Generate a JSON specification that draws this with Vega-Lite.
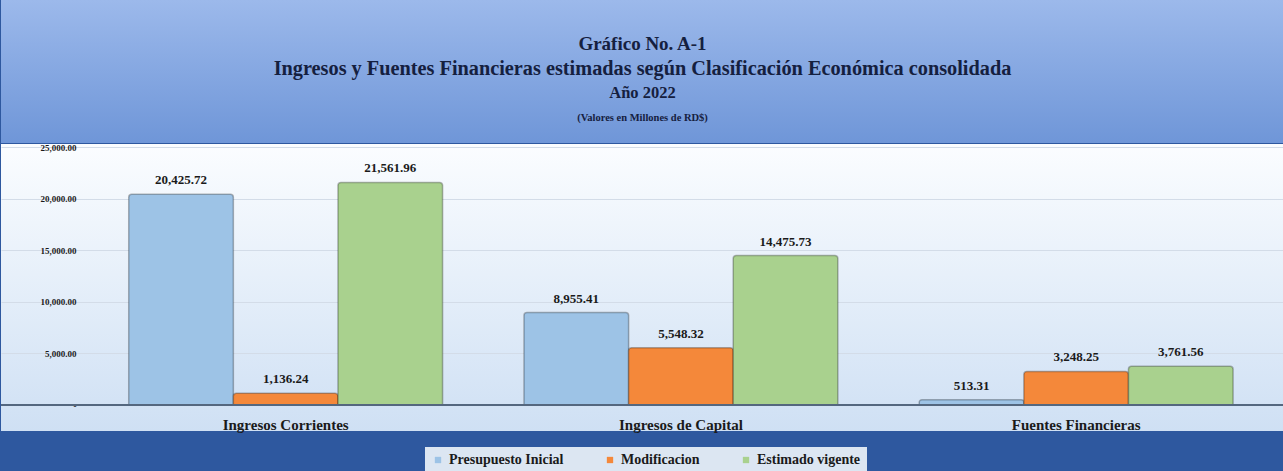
{
  "$schema": "https://vega.github.io/schema/vega-lite/v6.json",
  "background": "#2E589F",
  "padding": 0,
  "spacing": 0,
  "config": {"view": {"stroke": null}, "font": "Liberation Serif"},
  "vconcat": [
    {
      "width": 1283,
      "height": 143,
      "view": {
        "stroke": null,
        "fill": {"gradient": "linear", "x1": 0, "y1": 0, "x2": 0, "y2": 1,
                 "stops": [{"offset": 0, "color": "#9CB9EB"}, {"offset": 1, "color": "#6F96D8"}]}
      },
      "data": {"values": [
        {"linea": "Gráfico No. A-1", "tipo": "titulo"},
        {"linea": "Ingresos y Fuentes Financieras estimadas  según Clasificación Económica consolidada", "tipo": "subtitulo"},
        {"linea": "Año 2022", "tipo": "anio"},
        {"linea": "(Valores en Millones de RD$)", "tipo": "nota"}
      ]},
      "encoding": {
        "y": {"field": "linea", "type": "nominal", "sort": null,
              "scale": {"type": "band", "paddingInner": 0, "paddingOuter": 0.9, "align": 0.715,
                        "domain": ["Gráfico No. A-1", "Ingresos y Fuentes Financieras estimadas  según Clasificación Económica consolidada", "Año 2022", "(Valores en Millones de RD$)"]},
              "axis": null},
        "text": {"field": "linea", "type": "nominal"}
      },
      "layer": [
        {"transform": [{"filter": "datum.tipo == 'titulo'"}],
         "mark": {"type": "text", "font": "Liberation Serif", "fontWeight": "bold", "fontSize": 19, "color": "#15203F", "baseline": "middle"}},
        {"transform": [{"filter": "datum.tipo == 'subtitulo'"}],
         "mark": {"type": "text", "font": "Liberation Serif", "fontWeight": "bold", "fontSize": 20.3, "color": "#15203F", "baseline": "middle"}},
        {"transform": [{"filter": "datum.tipo == 'anio'"}],
         "mark": {"type": "text", "font": "Liberation Serif", "fontWeight": "bold", "fontSize": 16.5, "color": "#15203F", "baseline": "middle"}},
        {"transform": [{"filter": "datum.tipo == 'nota'"}],
         "mark": {"type": "text", "font": "Liberation Serif", "fontWeight": "bold", "fontSize": 10.5, "color": "#15203F", "baseline": "middle"}}
      ]
    },
    {
      "width": 1283,
      "height": 287,
      "view": {
        "stroke": null,
        "fill": {"gradient": "linear", "x1": 0, "y1": 0, "x2": 0, "y2": 1,
                 "stops": [{"offset": 0, "color": "#FBFDFF"}, {"offset": 1, "color": "#CFE0F4"}]}
      },
      "data": {"values": [
        {"categoria": "Ingresos Corrientes", "serie": "Presupuesto Inicial", "valor": 20425.72},
        {"categoria": "Ingresos Corrientes", "serie": "Modificacion", "valor": 1136.24},
        {"categoria": "Ingresos Corrientes", "serie": "Estimado vigente", "valor": 21561.96},
        {"categoria": "Ingresos de Capital", "serie": "Presupuesto Inicial", "valor": 8955.41},
        {"categoria": "Ingresos de Capital", "serie": "Modificacion", "valor": 5548.32},
        {"categoria": "Ingresos de Capital", "serie": "Estimado vigente", "valor": 14475.73},
        {"categoria": "Fuentes Financieras", "serie": "Presupuesto Inicial", "valor": 513.31},
        {"categoria": "Fuentes Financieras", "serie": "Modificacion", "valor": 3248.25},
        {"categoria": "Fuentes Financieras", "serie": "Estimado vigente", "valor": 3761.56}
      ]},
      "layer": [
        {
          "mark": {"type": "bar", "stroke": "#000000", "strokeOpacity": 0.28, "strokeWidth": 1.5, "cornerRadiusTopLeft": 3, "cornerRadiusTopRight": 3},
          "encoding": {
            "x": {"field": "categoria", "type": "nominal", "sort": ["Ingresos Corrientes", "Ingresos de Capital", "Fuentes Financieras"],
                  "scale": {"paddingInner": 0.206, "paddingOuter": 0.226, "align": 0.715},
                  "axis": {"orient": "bottom", "offset": -26, "domain": false, "ticks": false, "labelPadding": 12, "labelAngle": 0,
                           "labelFont": "Liberation Serif", "labelFontWeight": "bold", "labelFontSize": 15, "labelColor": "#1A1A1A", "title": null}},
            "xOffset": {"field": "serie", "type": "nominal", "sort": ["Presupuesto Inicial", "Modificacion", "Estimado vigente"],
                        "scale": {"paddingInner": 0, "paddingOuter": 0}},
            "y": {"field": "valor", "type": "quantitative",
                  "scale": {"domain": [-2519, 25291], "nice": false, "zero": false},
                  "axis": {"orient": "left", "offset": -77, "values": [0, 5000, 10000, 15000, 20000, 25000],
                           "labelExpr": "datum.value == 0 ? '-' : format(datum.value, ',.2f')",
                           "domain": false, "ticks": false, "labelPadding": 2, "grid": true, "gridColor": "#D3DCE8", "gridWidth": 1,
                           "labelFont": "Liberation Serif", "labelFontWeight": "bold", "labelFontSize": 9, "labelColor": "#1A1A1A", "title": null}},
            "y2": {"datum": 0},
            "color": {"field": "serie", "type": "nominal", "sort": ["Presupuesto Inicial", "Modificacion", "Estimado vigente"],
                      "scale": {"domain": ["Presupuesto Inicial", "Modificacion", "Estimado vigente"], "range": ["#9DC3E6", "#F4883A", "#A9D18E"]},
                      "legend": {"orient": "none", "legendX": 424, "legendY": 447, "direction": "horizontal", "title": null, "fillColor": "#DCE6F2", "padding": 6,
                                 "symbolType": "square", "symbolSize": 40, "symbolStrokeWidth": 0, "columnPadding": 39, "labelOffset": 4,
                                 "labelFont": "Liberation Serif", "labelFontWeight": "bold", "labelFontSize": 14, "labelColor": "#1A1A1A"}}
          }
        },
        {
          "mark": {"type": "text", "baseline": "bottom", "dy": -7, "font": "Liberation Serif", "fontWeight": "bold", "fontSize": 13, "color": "#1A1A1A"},
          "encoding": {
            "x": {"field": "categoria", "type": "nominal", "sort": ["Ingresos Corrientes", "Ingresos de Capital", "Fuentes Financieras"]},
            "xOffset": {"field": "serie", "type": "nominal", "sort": ["Presupuesto Inicial", "Modificacion", "Estimado vigente"]},
            "y": {"field": "valor", "type": "quantitative"},
            "text": {"field": "valor", "type": "quantitative", "format": ",.2f"}
          }
        },
        {
          "mark": {"type": "rule", "color": "#55677F", "strokeWidth": 1.5},
          "encoding": {"y": {"datum": 0}}
        }
      ]
    }
  ]
}
